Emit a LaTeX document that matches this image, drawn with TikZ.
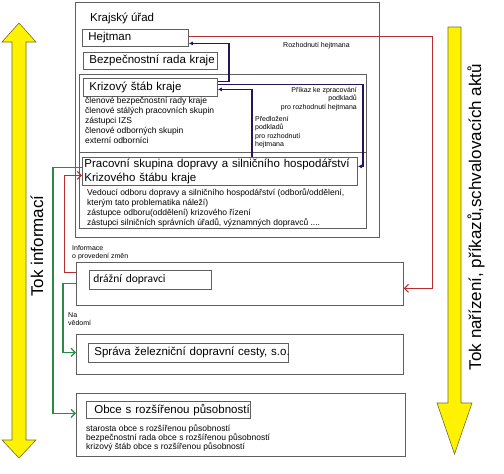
\documentclass[tikz,border=0pt]{standalone}
\usepackage{fontspec}
\setmainfont{Liberation Sans}
\newfontfamily\calibrifont{Carlito}
\usetikzlibrary{arrows.meta}
\definecolor{navy}{RGB}{40,20,90}
\definecolor{linered}{RGB}{185,45,50}
\definecolor{linegreen}{RGB}{40,140,70}
\definecolor{boxgray}{RGB}{95,95,95}
\definecolor{arrowedge}{RGB}{110,110,40}

\begin{document}
\begin{tikzpicture}[x=1pt, y=-1pt,
  outerbox/.style={draw=boxgray, line width=0.8pt, anchor=north west, inner sep=0pt},
  namebox/.style={draw=boxgray, line width=0.8pt, anchor=north west, align=left,
    inner xsep=6pt, inner ysep=0pt, font=\fontsize{11.5}{14}\selectfont},
  listtext/.style={anchor=north west, align=left, inner sep=0pt, font=\fontsize{8.5}{10}\selectfont},
  tinytext/.style={inner sep=0pt, font=\fontsize{7}{8.5}\selectfont},
  navyarrow/.style={draw=navy, line width=1.3pt, -{Latex[length=4pt,width=4pt]}},
  redarrow/.style={draw=linered, line width=1pt, -{Straight Barb[length=4pt,width=8pt]}},
  greenarrow/.style={draw=linegreen, line width=1.3pt, -{Straight Barb[length=4pt,width=8pt]}},
  yellowarrow/.style={fill=yellow, draw=arrowedge, line width=0.6pt},
  tokfont/.style={font=\fontsize{17}{20}\selectfont}]
  \fill[white] (0,0) rectangle (504,474);
  \useasboundingbox (0,0) rectangle (504,474);
  % Krajsky urad
  \node[outerbox, minimum width=304pt, minimum height=235pt] (kraj) at (75,2) {};
  \node[anchor=west, inner sep=0pt, font=\fontsize{11.5}{13}\selectfont] (krajlbl) at (90,18) {Krajský úřad};
  \node[namebox, text width=94pt, minimum height=17pt] (hejtman) at (82,29) {Hejtman};
  \node[namebox, text width=122pt, minimum height=17pt] (rada) at (83,52) {\mbox{Bezpečnostní rada kraje}};
  % krizovy stab
  \node[outerbox, minimum width=287pt, minimum height=78pt] (ksarea) at (79,74) {};
  \node[namebox, text width=122pt, minimum height=18pt] (ks) at (83,78) {\mbox{Krizový štáb kraje}};
  \node[listtext] (kslist) at (85,97) {členové bezpečnostní rady kraje\\členové stálých pracovních skupin\\zástupci IZS\\členové odborných skupin\\externí odborníci};
  % pracovni skupina
  \node[outerbox, minimum width=287pt, minimum height=76pt] (psarea) at (79,152) {};
  \node[namebox, inner xsep=2pt, text width=271pt, minimum height=28pt] (ps) at (82,157) {\mbox{Pracovní skupina dopravy a silničního hospodářství}\\Krizového štábu kraje};
  \node[listtext] (pslist) at (87,188) {Vedoucí odboru dopravy a silničního hospodářství (odborů/oddělení,\\kterým tato problematika náleží)\\zástupce odboru(oddělení) krizového řízení\\zástupci silničních správních úřadů, významných dopravců ....};
  % dopravci, SZDC, ORP
  \node[outerbox, minimum width=327pt, minimum height=43pt] (drazni) at (76,262) {};
  \node[namebox, inner xsep=4pt, text width=114pt, minimum height=19pt, font=\calibrifont\fontsize{11.5}{14}\selectfont] (drazbox) at (89,270) {drážní dopravci};
  \node[outerbox, minimum width=327pt, minimum height=40pt] (sprava) at (76,334) {};
  \node[namebox, text width=188pt, minimum height=19pt] (spbox) at (88,343) {\mbox{Správa železniční dopravní cesty, s.o.}};
  \node[outerbox, minimum width=329pt, minimum height=63pt] (obce) at (76,393) {};
  \node[namebox, inner xsep=8pt, text width=148pt, minimum height=17pt] (obcebox) at (86,401) {\mbox{Obce s rozšířenou působností}};
  \node[listtext, font=\fontsize{8.5}{9}\selectfont] (obcelist) at (86,424) {starosta obce s rozšířenou působností\\bezpečnostní rada obce s rozšířenou působností\\krizový štáb obce s rozšířenou působností};
  % popisky spojnic
  \node[tinytext, anchor=west] (rozhlbl) at (283,46) {Rozhodnutí hejtmana};
  \node[tinytext, anchor=north east, align=right] (prikazlbl) at (357,87) {Příkaz ke zpracování\\podkladů\\pro rozhodnutí hejtmana};
  \node[tinytext, anchor=north west, align=left] (predlbl) at (255,116) {Předložení\\podkladů\\pro rozhodnutí\\hejtmana};
  \node[tinytext, anchor=north west, align=left] (infolbl) at (72,245) {Informace\\o provedení změn};
  \node[tinytext, anchor=north west, align=left] (vedlbl) at (68,312) {Na\\vědomí};
  % spojnice
  \coordinate (hejx) at (229,0);
  \coordinate (predx) at (252,0);
  \coordinate (prikx) at (363,0);
  \coordinate (rozx) at (432,0);
  \coordinate (infox) at (64,0);
  \coordinate (tokx) at (53,0);
  \coordinate (vedx) at (63,0);
  \draw[navyarrow] ([yshift=6pt]ks.east) -- ([yshift=6pt]ks.east -| hejx) |- ([yshift=-5.5pt]hejtman.east);
  \draw[navyarrow] (ps.north -| predx) |- ([yshift=-2pt]ks.east);
  \draw[navyarrow] ([yshift=3pt]ks.east) -- ([yshift=3pt]ks.east -| prikx) |- ([yshift=5pt]ps.east);
  \draw[redarrow] ([yshift=1.5pt]hejtman.east) -- ([yshift=1.5pt]hejtman.east -| rozx) |- ([yshift=-4.5pt]drazni.east);
  \draw[redarrow] ([yshift=11.5pt]drazni.west) -- ([yshift=11.5pt]drazni.west -| infox) |- ([yshift=-4pt]ps.west);
  \draw[greenarrow] ([yshift=4pt]ps.west) -- ([yshift=4pt]ps.west -| tokx) |- ([yshift=11.5pt]obce.west);
  \draw[greenarrow] ([yshift=0.5pt]drazni.west) -- ([yshift=0.5pt]drazni.west -| vedx) |- ([yshift=2pt]sprava.west);
  % zlute sipky
  \draw[yellowarrow] (19,23) -- (36,42) -- (26,42) -- (26,440) -- (36,440) -- (19,458) -- (2,440) -- (12,440) -- (12,42) -- (2,42) -- cycle;
  \node[tokfont, rotate=90] (toklbl) at (37,246) {Tok informací};
  \draw[yellowarrow] (448,27) -- (461,27) -- (461,403) -- (472,403) -- (454.5,454) -- (437,403) -- (448,403) -- cycle;
  \node[tokfont, rotate=90] (tok2lbl) at (476,217) {Tok nařízení, příkazů,schvalovacích aktů};
\end{tikzpicture}
\end{document}
